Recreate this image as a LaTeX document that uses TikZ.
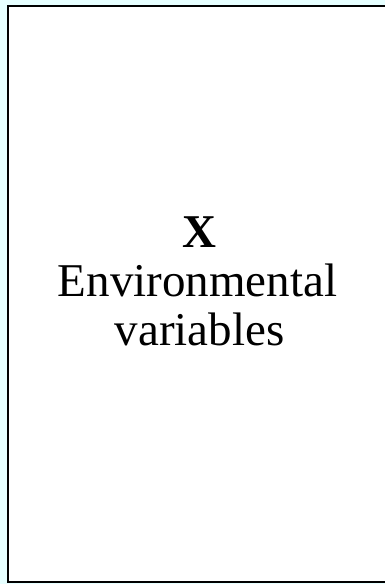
\documentclass[tikz,border=0pt]{standalone}
\usepackage{fontspec}
\setmainfont{Liberation Serif}
\definecolor{pagebg}{RGB}{230,255,255}
\tikzset{
  frame/.style={draw=black, line width=2pt, fill=white},
  label/.style={anchor=base, inner sep=0pt, font=\fontsize{47}{49}\selectfont}
}
\begin{document}
\begin{tikzpicture}[x=1pt,y=1pt]
  \useasboundingbox (0,0) rectangle (385,584);
  \fill[pagebg] (0,0) rectangle (385,584);
  \clip (0,0) rectangle (385,584);
  % panel, running past the right edge
  \draw[frame] (7.5,1.5) rectangle (392,577.5);
  \node[label] (sym) at (199,336) {\textbf{X}};
  \node[label] (name1) at (197.5,287) {Environmental};
  \node[label] (name2) at (199.5,238) {variables};
\end{tikzpicture}
\end{document}
